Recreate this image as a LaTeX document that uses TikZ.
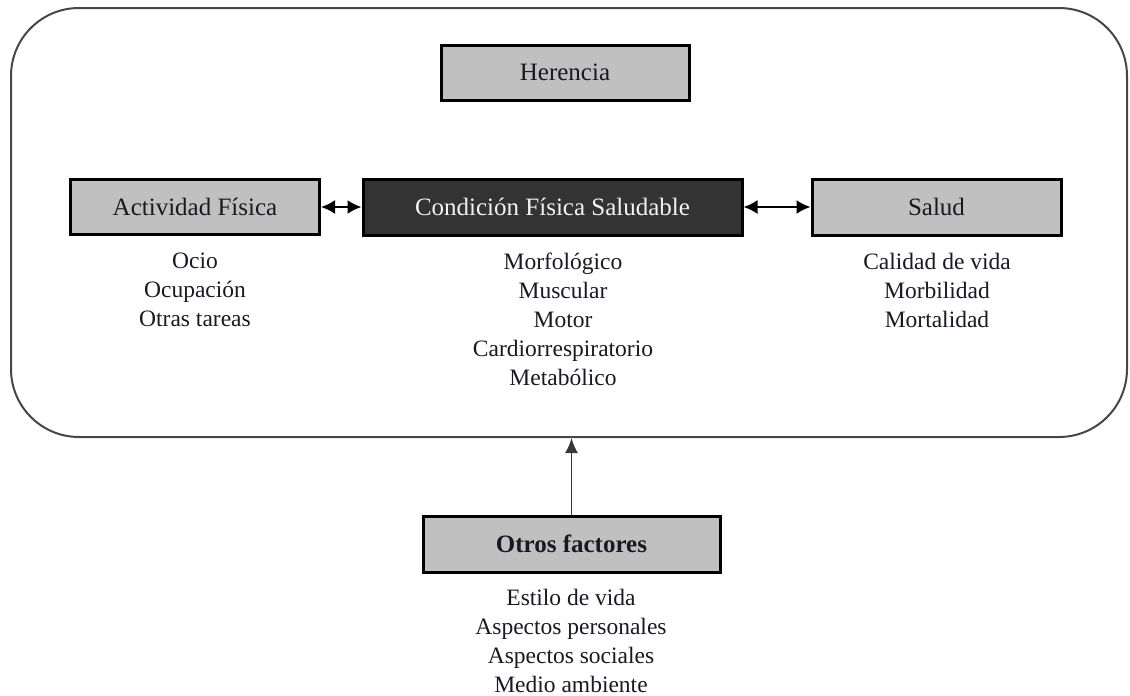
\documentclass[tikz,border=0pt]{standalone}
\usepackage{fontspec}
\setmainfont{Liberation Serif}
\usetikzlibrary{arrows.meta}
\definecolor{boxgray}{RGB}{192,192,192}
\definecolor{boxdark}{RGB}{51,51,51}
\definecolor{framegray}{RGB}{70,70,70}
\definecolor{txt}{RGB}{25,25,35}
\begin{document}
\begin{tikzpicture}[x=1pt,y=-1pt,
  box/.style={draw=black, line width=3pt, fill=boxgray, minimum width=#1, minimum height=55pt,
    inner sep=0pt, text=txt, font=\fontsize{25}{28}\selectfont},
  darkbox/.style={box=#1, fill=boxdark, text=white!90!gray},
  itemlist/.style={align=center, inner sep=0pt, text=txt, font=\fontsize{23.5}{29}\selectfont, anchor=north},
  dblarrow/.style={{Latex[length=14pt,width=14pt]}-{Latex[length=14pt,width=14pt]}, line width=2pt, black},
  uparrow/.style={-{Latex[length=15pt,width=13pt]}, line width=1.8pt, framegray!80!black}
]
\useasboundingbox (0,0) rectangle (1130,696);
\node[draw=framegray, line width=2pt, rounded corners=68pt, minimum width=1116pt, minimum height=429pt, inner sep=0pt] (frame) at (569,222.5) {};

\node[box=248pt] (herencia) at (565,72.5) {Herencia};
\node[box=249pt] (act) at (195,207) {Actividad Física};
\node[darkbox=379pt, minimum height=56pt] (cond) at (552.5,207) {Condición Física Saludable};
\node[box=249pt, minimum height=56pt] (salud) at (936.5,207) {Salud};
\node[box=297pt, minimum height=56pt, font=\fontsize{25}{28}\selectfont\bfseries] (otros) at (571.5,544) {Otros factores};

\draw[dblarrow] (act.east) -- (cond.west);
\draw[dblarrow] (cond.east) -- (salud.west);
\draw[uparrow] (otros.north) -- (otros.north |- frame.south);

\node[itemlist] (actlist) at (195,253) {Ocio\\Ocupación\\Otras tareas};
\node[itemlist] (condlist) at (563,253) {Morfológico\\Muscular\\Motor\\Cardiorrespiratorio\\Metabólico};
\node[itemlist] (saludlist) at (937,253) {Calidad de vida\\Morbilidad\\Mortalidad};
\node[itemlist] (otroslist) at (571,589) {Estilo de vida\\Aspectos personales\\Aspectos sociales\\Medio ambiente};
\end{tikzpicture}
\end{document}
